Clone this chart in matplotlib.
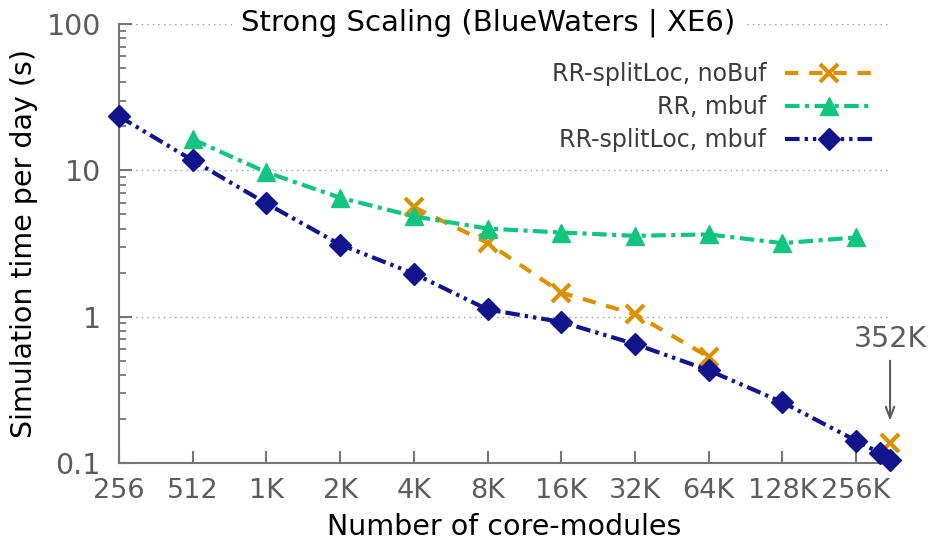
import matplotlib.pyplot as plt
import numpy as np

# core-module counts and timings (seconds of simulation per day)
cores_split_mbuf = [256, 512, 1024, 2048, 4096, 8192, 16384, 32768, 65536, 131072, 262144, 327680, 360448]
time_split_mbuf = [23.4, 11.7, 5.94, 3.11, 1.97, 1.12, 0.92, 0.65, 0.43, 0.26, 0.142, 0.117, 0.105]

cores_rr_mbuf = [512, 1024, 2048, 4096, 8192, 16384, 32768, 65536, 131072, 262144]
time_rr_mbuf = [16.3, 9.7, 6.5, 4.85, 4.0, 3.76, 3.57, 3.65, 3.18, 3.48]

cores_split_nobuf = [4096, 8192, 16384, 32768, 65536]
time_split_nobuf = [5.6, 3.2, 1.46, 1.04, 0.53]
cores_split_nobuf_max = [360448]
time_split_nobuf_max = [0.137]

xtick_vals = [256, 512, 1024, 2048, 4096, 8192, 16384, 32768, 65536, 131072, 262144]
xtick_labels = ['256', '512', '1K', '2K', '4K', '8K', '16K', '32K', '64K', '128K', '256K']

ORANGE = '#DB9200'
GREEN = '#10C580'
NAVY = '#11148A'
GRAY = '#5c5c5c'
FS = 20.5

plt.rcParams['font.family'] = 'DejaVu Sans'
fig = plt.figure(figsize=(9.36, 5.46), dpi=100)
ax = fig.add_axes([0.1271, 0.152, 0.8238, 0.804])

ax.plot(cores_split_nobuf, time_split_nobuf, color=ORANGE, lw=3, dashes=(3.2, 2.6),
        marker='x', ms=13, mew=3, clip_on=False, zorder=3, label='RR-splitLoc, noBuf')
ax.plot(cores_split_nobuf_max, time_split_nobuf_max, ls='none', color=ORANGE,
        marker='x', ms=13, mew=3, clip_on=False, zorder=3)
ax.plot(cores_rr_mbuf, time_rr_mbuf, color=GREEN, lw=3, dashes=(3.5, 1.3, 1, 1.3),
        marker='^', ms=13, clip_on=False, zorder=3, label='RR, mbuf')
ax.plot(cores_split_mbuf, time_split_mbuf, color=NAVY, lw=3, dashes=(3.5, 1.2, 0.8, 1.2, 0.8, 1.2),
        marker='D', ms=11, clip_on=False, zorder=4, label='RR-splitLoc, mbuf')

ax.set_xscale('log', base=2)
ax.set_yscale('log')
ax.set_xlim(256, 360448)
ax.set_ylim(0.1, 100)

ax.set_xticks(xtick_vals)
ax.set_xticklabels(xtick_labels)
ax.minorticks_off()
ax.set_yticks([0.1, 1, 10, 100])
ax.set_yticklabels(['0.1', '1', '10', '100'])
ax.set_yticks([m * d for d in [0.1, 1, 10] for m in range(2, 10)], minor=True)
ax.yaxis.set_minor_formatter(plt.NullFormatter())

ax.tick_params(axis='both', which='major', direction='in', length=9, width=1.5,
               color='#777777', labelcolor=GRAY, labelsize=FS)
ax.tick_params(axis='x', pad=11, labelsize=19.5)
ax.tick_params(axis='y', pad=13)
ax.tick_params(axis='y', which='minor', direction='in', length=5, width=1.3, color='#777777')

for side in ['top', 'right']:
    ax.spines[side].set_visible(False)
for side in ['left', 'bottom']:
    ax.spines[side].set_color('#777777')
    ax.spines[side].set_linewidth(1.5)

ax.grid(axis='y', which='major', color='#999999', ls=(0, (1, 3)), lw=1)
ax.set_axisbelow(True)

ax.set_xlabel('Number of core-modules', fontsize=FS, labelpad=6)
ax.set_ylabel('Simulation time per day (s)', fontsize=FS, labelpad=6)
fig.text(0.522, 0.958, 'Strong Scaling (BlueWaters | XE6)', fontsize=21, ha='center', va='center',
         bbox=dict(facecolor='white', edgecolor='none', pad=6))

leg = ax.legend(loc='upper right', bbox_to_anchor=(1.0056, 0.962), frameon=False, markerfirst=False,
                fontsize=17, handlelength=3.73, labelspacing=0.38, handletextpad=0.8)
for t in leg.get_texts():
    t.set_color('#3c3c3c')
    t.set_ha('right')

# marker for the largest run
ax.text(360448, 0.707, '352K', ha='center', va='center', fontsize=FS, color=GRAY)
ax.annotate('', xy=(360448, 0.194), xytext=(360448, 0.5), annotation_clip=False,
            arrowprops=dict(arrowstyle='->,head_length=0.8,head_width=0.3', color=GRAY, lw=1.5,
                            shrinkA=0, shrinkB=0))

fig.savefig('out.png', dpi=100)
